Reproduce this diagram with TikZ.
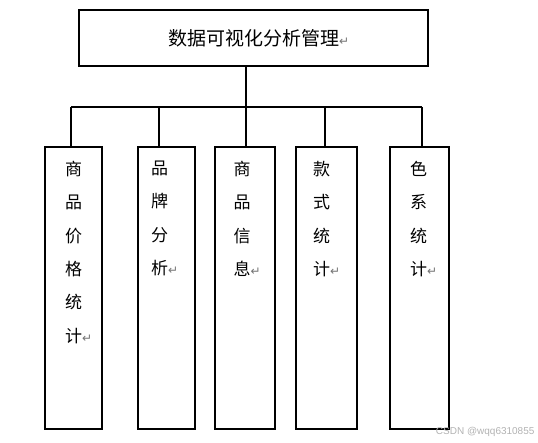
\documentclass[tikz,border=0pt]{standalone}
\usepackage{fontspec}
\newfontfamily\cjkfont{Noto Sans CJK SC}
\newfontfamily\retfont{DejaVu Sans}
\newfontfamily\markfont{Liberation Sans}
\newcommand{\ret}{\rlap{\textcolor{black!55}{\retfont\fontsize{12}{12}\selectfont ↵}}}
\usetikzlibrary{positioning}

\begin{document}
\begin{tikzpicture}[x=1pt,y=-1pt,line width=1.1pt,
        top node/.style={rectangle,draw,minimum width=349pt,minimum height=56pt,
            font=\cjkfont\fontsize{19}{19}\selectfont},
        col node/.style={rectangle,draw,minimum height=282pt},
        col text/.style={inner sep=0pt,align=center,anchor=north,
            font=\cjkfont\fontsize{17}{33.4}\selectfont}]
        \useasboundingbox (0,0) rectangle (538,443);
        \node[top node] (top) at (253.5,38) {数据可视化分析管理\ret};
        \node[col node,minimum width=57pt] (b1) at (73.5,288) {};
        \node[col node,minimum width=57pt] (b2) at (166.5,288) {};
        \node[col node,minimum width=60pt] (b3) at (245,288) {};
        \node[col node,minimum width=61pt] (b4) at (326.5,288) {};
        \node[col node,minimum width=59pt] (b5) at (419.5,288) {};
        \node[col text,below=14pt of b1.north] (t1) {商\\品\\价\\格\\统\\计\ret};
        \node[col text,below=14pt of b2.north,xshift=-7pt] (t2) {品\\牌\\分\\析\ret};
        \node[col text,below=14pt of b3.north,xshift=-3pt] (t3) {商\\品\\信\\息\ret};
        \node[col text,below=14pt of b4.north,xshift=-5pt] (t4) {款\\式\\统\\计\ret};
        \node[col text,below=14pt of b5.north,xshift=-1pt] (t5) {色\\系\\统\\计\ret};
        \coordinate (s1) at (71,107);
        \coordinate (s2) at (159,107);
        \coordinate (s3) at (246,107);
        \coordinate (s4) at (325,107);
        \coordinate (s5) at (422,107);
        \draw (top.south -| s3) -- (s3);
        \draw (s1) -- (s5);
        \draw (s1) -- (s1 |- b1.north);
        \draw (s2) -- (s2 |- b2.north);
        \draw (s3) -- (s3 |- b3.north);
        \draw (s4) -- (s4 |- b4.north);
        \draw (s5) -- (s5 |- b5.north);
        \node[anchor=east,inner sep=0pt,text=black!30,font=\markfont\fontsize{10}{10}\selectfont]
            (mark) at (535,432) {CSDN @wqq6310855};
\end{tikzpicture}
\end{document}
